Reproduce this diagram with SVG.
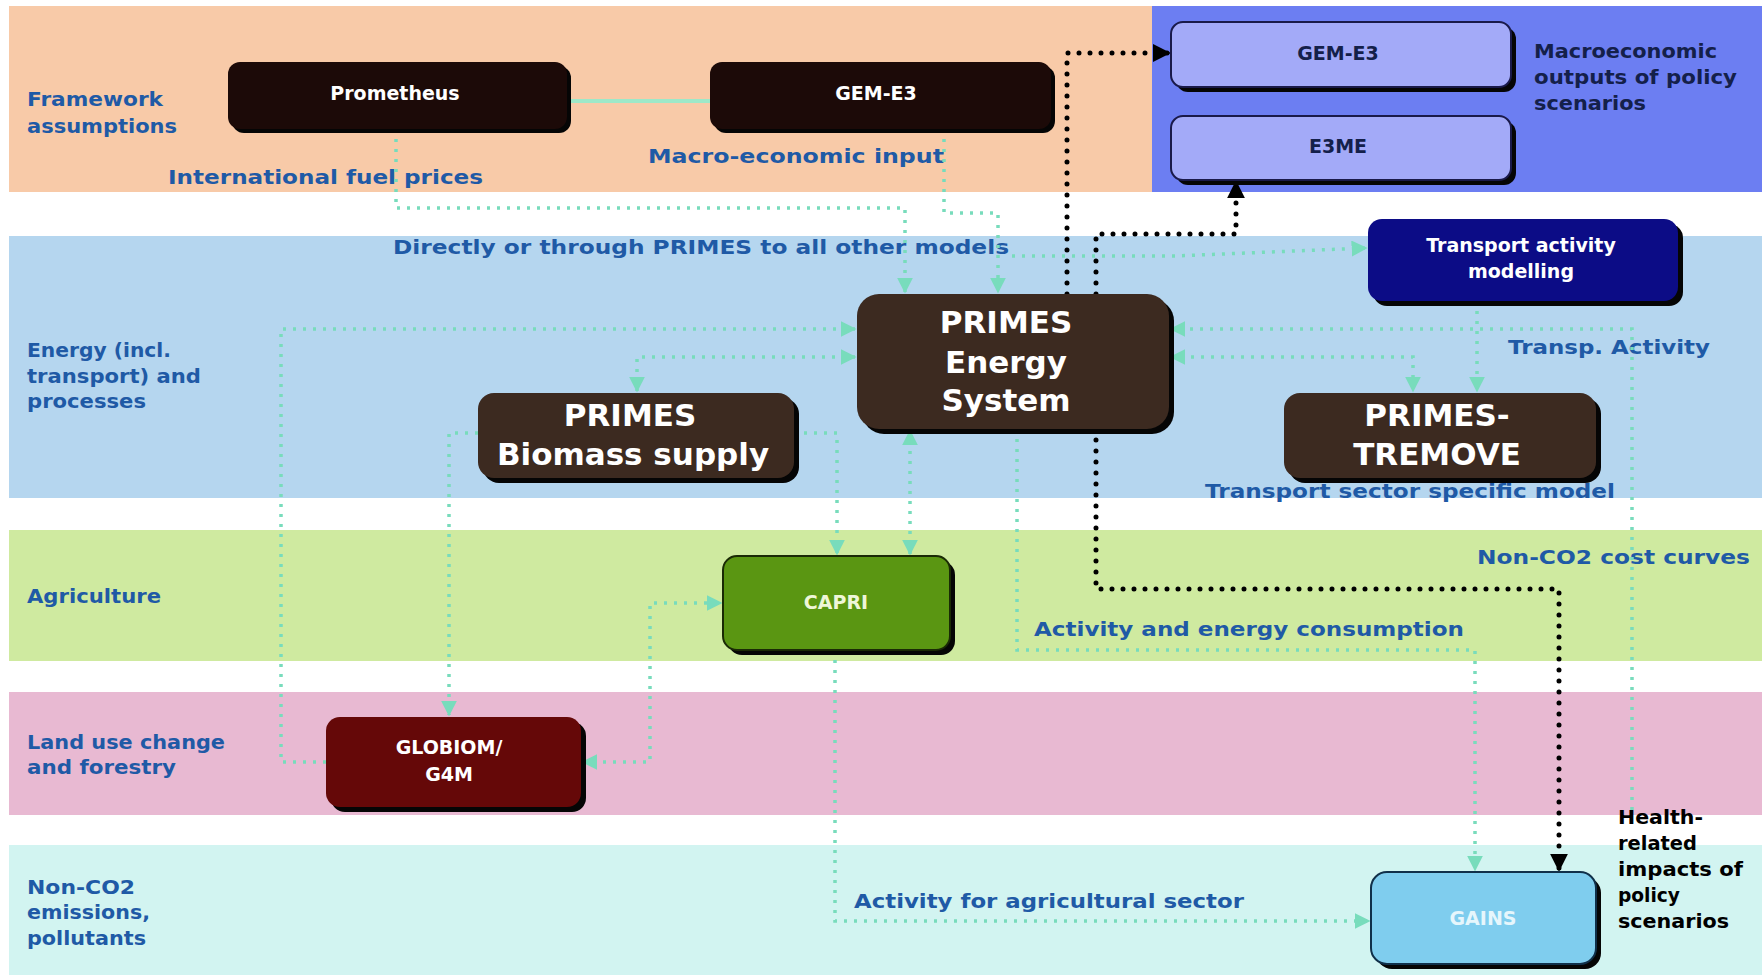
<svg xmlns="http://www.w3.org/2000/svg" width="1762" height="978" viewBox="0 0 1762 978">
<style>
.lbl{font-family:"DejaVu Sans",sans-serif;font-weight:700;fill:#1f5aa6;font-size:19px}
.big{font-family:"DejaVu Sans",sans-serif;font-weight:700;fill:#ffffff;font-size:31px;text-anchor:middle}
.nt{font-family:"DejaVu Sans",sans-serif;font-weight:700;fill:#ffffff;font-size:19px;text-anchor:middle}
.dk{font-family:"DejaVu Sans",sans-serif;font-weight:700;fill:#14204a;font-size:19px}
.sh{fill:#050505}
.g{fill:none;stroke:#78dcbc;stroke-width:3.5;stroke-dasharray:3 7}
.b{fill:none;stroke:#000000;stroke-width:5;stroke-dasharray:0 11;stroke-linecap:round}
</style>
<defs>
<marker id="ga" viewBox="0 0 10 10" refX="9" refY="5" markerWidth="16" markerHeight="16" markerUnits="userSpaceOnUse" orient="auto-start-reverse"><path d="M0,0 L10,5 L0,10 z" fill="#78dcbc"/></marker>
<marker id="ba" viewBox="0 0 10 10" refX="9" refY="5" markerWidth="18" markerHeight="18" markerUnits="userSpaceOnUse" orient="auto"><path d="M0,0 L10,5 L0,10 z" fill="#000"/></marker>
</defs>
<rect width="1762" height="978" fill="#ffffff"/>
<g id="bands">
<rect x="9" y="6" width="1143" height="186" fill="#f8caa8"/>
<rect x="1152" y="6" width="610" height="186" fill="#6c7ef2"/>
<rect x="9" y="236" width="1753" height="262" fill="#b5d6ef"/>
<rect x="9" y="530" width="1753" height="131" fill="#cfeaa0"/>
<rect x="9" y="692" width="1753" height="123" fill="#e8b9d2"/>
<rect x="9" y="845" width="1753" height="130" fill="#d2f4f1"/>
</g>
<g id="labels">
<text class="lbl" x="27" y="106" textLength="136" lengthAdjust="spacingAndGlyphs">Framework</text>
<text class="lbl" x="27" y="133" textLength="150" lengthAdjust="spacingAndGlyphs">assumptions</text>
<text class="lbl" x="168" y="184" font-size="21" textLength="315" lengthAdjust="spacingAndGlyphs">International fuel prices</text>
<text class="lbl" x="648" y="163" font-size="21" textLength="296" lengthAdjust="spacingAndGlyphs">Macro-economic input</text>
<text class="lbl" x="393" y="254" font-size="21" textLength="616" lengthAdjust="spacingAndGlyphs">Directly or through PRIMES to all other models</text>
<text class="lbl" x="27" y="357" textLength="144" lengthAdjust="spacingAndGlyphs">Energy (incl.</text>
<text class="lbl" x="27" y="383" textLength="174" lengthAdjust="spacingAndGlyphs">transport) and</text>
<text class="lbl" x="27" y="408" textLength="119" lengthAdjust="spacingAndGlyphs">processes</text>
<text class="lbl" x="1508" y="354" font-size="21" textLength="202" lengthAdjust="spacingAndGlyphs">Transp. Activity</text>
<text class="lbl" x="1205" y="498" font-size="21" textLength="410" lengthAdjust="spacingAndGlyphs">Transport sector specific model</text>
<text class="lbl" x="1477" y="564" font-size="21" textLength="273" lengthAdjust="spacingAndGlyphs">Non-CO2 cost curves</text>
<text class="lbl" x="27" y="603" textLength="134" lengthAdjust="spacingAndGlyphs">Agriculture</text>
<text class="lbl" x="1034" y="636" font-size="21" textLength="430" lengthAdjust="spacingAndGlyphs">Activity and energy consumption</text>
<text class="lbl" x="27" y="749" textLength="198" lengthAdjust="spacingAndGlyphs">Land use change</text>
<text class="lbl" x="27" y="774" textLength="149" lengthAdjust="spacingAndGlyphs">and forestry</text>
<text class="lbl" x="27" y="894" textLength="108" lengthAdjust="spacingAndGlyphs">Non-CO2</text>
<text class="lbl" x="27" y="919" textLength="123" lengthAdjust="spacingAndGlyphs">emissions,</text>
<text class="lbl" x="27" y="945" textLength="119" lengthAdjust="spacingAndGlyphs">pollutants</text>
<text class="lbl" x="854" y="908" font-size="21" textLength="390" lengthAdjust="spacingAndGlyphs">Activity for agricultural sector</text>
<text class="dk" x="1534" y="58" textLength="183" lengthAdjust="spacingAndGlyphs">Macroeconomic</text>
<text class="dk" x="1534" y="84" textLength="203" lengthAdjust="spacingAndGlyphs">outputs of policy</text>
<text class="dk" x="1534" y="110" textLength="112" lengthAdjust="spacingAndGlyphs">scenarios</text>
<text class="dk" x="1618" y="824" fill="#000" style="fill:#000" textLength="85" lengthAdjust="spacingAndGlyphs">Health-</text>
<text class="dk" x="1618" y="850" style="fill:#000" textLength="79" lengthAdjust="spacingAndGlyphs">related</text>
<text class="dk" x="1618" y="876" style="fill:#000" textLength="125" lengthAdjust="spacingAndGlyphs">impacts of</text>
<text class="dk" x="1618" y="902" style="fill:#000" textLength="62" lengthAdjust="spacingAndGlyphs">policy</text>
<text class="dk" x="1618" y="928" style="fill:#000" textLength="111" lengthAdjust="spacingAndGlyphs">scenarios</text>
</g>
<g id="connectors">
<line x1="567" y1="101" x2="710" y2="101" stroke="#9ee8c8" stroke-width="4"/>
<path class="g" d="M396,129 V208 H905 V292" marker-end="url(#ga)"/>
<path class="g" d="M944,129 V213 H998 V292" marker-end="url(#ga)"/>
<path class="g" d="M1012,256 H1175 L1366,248" marker-end="url(#ga)"/>
<path class="g" d="M326,762 H281 V329 H855" marker-end="url(#ga)"/>
<path class="g" d="M855,357 H637 V391" marker-start="url(#ga)" marker-end="url(#ga)"/>
<path class="g" d="M478,433 H449 V715" marker-end="url(#ga)"/>
<path class="g" d="M794,433 H837 V554" marker-end="url(#ga)"/>
<path class="g" d="M910,431 V554" marker-start="url(#ga)" marker-end="url(#ga)"/>
<path class="g" d="M583,762 H650 V603 H721" marker-start="url(#ga)" marker-end="url(#ga)"/>
<path class="g" d="M1017,429 V650 H1475 V870" marker-end="url(#ga)"/>
<path class="g" d="M835,650 V921 H1369" marker-end="url(#ga)"/>
<path class="g" d="M1632,810 V329 H1171" marker-end="url(#ga)"/>
<path class="g" d="M1171,357 H1413 V391" marker-start="url(#ga)" marker-end="url(#ga)"/>
<path class="g" d="M1477,301 V391" marker-end="url(#ga)"/>
<path class="b" d="M1067,294 V53 H1169" marker-end="url(#ba)"/>
<path class="b" d="M1096,294 V234 H1236 V182" marker-end="url(#ba)"/>
<path class="b" d="M1096,429 V589 H1559 V870" marker-end="url(#ba)"/>
</g>
<g id="prometheus">
<rect class="sh" x="232" y="66" width="339" height="67" rx="12"/>
<rect x="228" y="62" width="339" height="67" rx="12" fill="#1c0a08"/>
<text class="nt" x="395" y="100">Prometheus</text>
</g>
<g id="gem-e3-input">
<rect class="sh" x="714" y="66" width="341" height="67" rx="12"/>
<rect x="710" y="62" width="341" height="67" rx="12" fill="#1c0a08"/>
<text class="nt" x="876" y="100">GEM-E3</text>
</g>
<g id="gem-e3-output">
<rect class="sh" x="1176" y="27" width="340" height="65" rx="12"/>
<rect x="1171" y="22" width="340" height="65" rx="12" fill="#a3aaf8" stroke="#1a1a4a" stroke-width="2"/>
<text class="dk" x="1338" y="60" text-anchor="middle">GEM-E3</text>
</g>
<g id="e3me">
<rect class="sh" x="1176" y="121" width="340" height="64" rx="12"/>
<rect x="1171" y="116" width="340" height="64" rx="12" fill="#a3aaf8" stroke="#1a1a4a" stroke-width="2"/>
<text class="dk" x="1338" y="153" text-anchor="middle">E3ME</text>
</g>
<g id="transport-activity">
<rect class="sh" x="1373" y="224" width="310" height="82" rx="14"/>
<rect x="1368" y="219" width="310" height="82" rx="14" fill="#0c0c86"/>
<text class="nt" x="1521" y="252">Transport activity</text>
<text class="nt" x="1521" y="278">modelling</text>
</g>
<g id="primes-energy">
<rect class="sh" x="862" y="299" width="312" height="135" rx="22"/>
<rect x="857" y="294" width="312" height="135" rx="22" fill="#3c2a20"/>
<text class="big" x="1006" y="333">PRIMES</text>
<text class="big" x="1006" y="373">Energy</text>
<text class="big" x="1006" y="411">System</text>
</g>
<g id="primes-biomass">
<rect class="sh" x="483" y="398" width="316" height="85" rx="16"/>
<rect x="478" y="393" width="316" height="85" rx="16" fill="#3c2a20"/>
<text class="big" x="630" y="426">PRIMES</text>
<text class="big" x="633" y="465">Biomass supply</text>
</g>
<g id="primes-tremove">
<rect class="sh" x="1289" y="398" width="312" height="85" rx="16"/>
<rect x="1284" y="393" width="312" height="85" rx="16" fill="#3c2a20"/>
<text class="big" x="1437" y="426">PRIMES-</text>
<text class="big" x="1437" y="465">TREMOVE</text>
</g>
<g id="capri">
<rect class="sh" x="728" y="561" width="227" height="94" rx="14"/>
<rect x="723" y="556" width="227" height="94" rx="14" fill="#5a9612" stroke="#1a2a05" stroke-width="2"/>
<text class="nt" x="836" y="609" style="fill:#eef6d8">CAPRI</text>
</g>
<g id="globiom">
<rect class="sh" x="331" y="722" width="255" height="90" rx="14"/>
<rect x="326" y="717" width="255" height="90" rx="14" fill="#650808"/>
<text class="nt" x="449" y="754">GLOBIOM/</text>
<text class="nt" x="449" y="781">G4M</text>
</g>
<g id="gains">
<rect class="sh" x="1376" y="877" width="225" height="92" rx="16"/>
<rect x="1371" y="872" width="225" height="92" rx="16" fill="#7fcdee" stroke="#10304a" stroke-width="2"/>
<text class="nt" x="1483" y="925" style="fill:#e6f6fc">GAINS</text>
</g>
</svg>
